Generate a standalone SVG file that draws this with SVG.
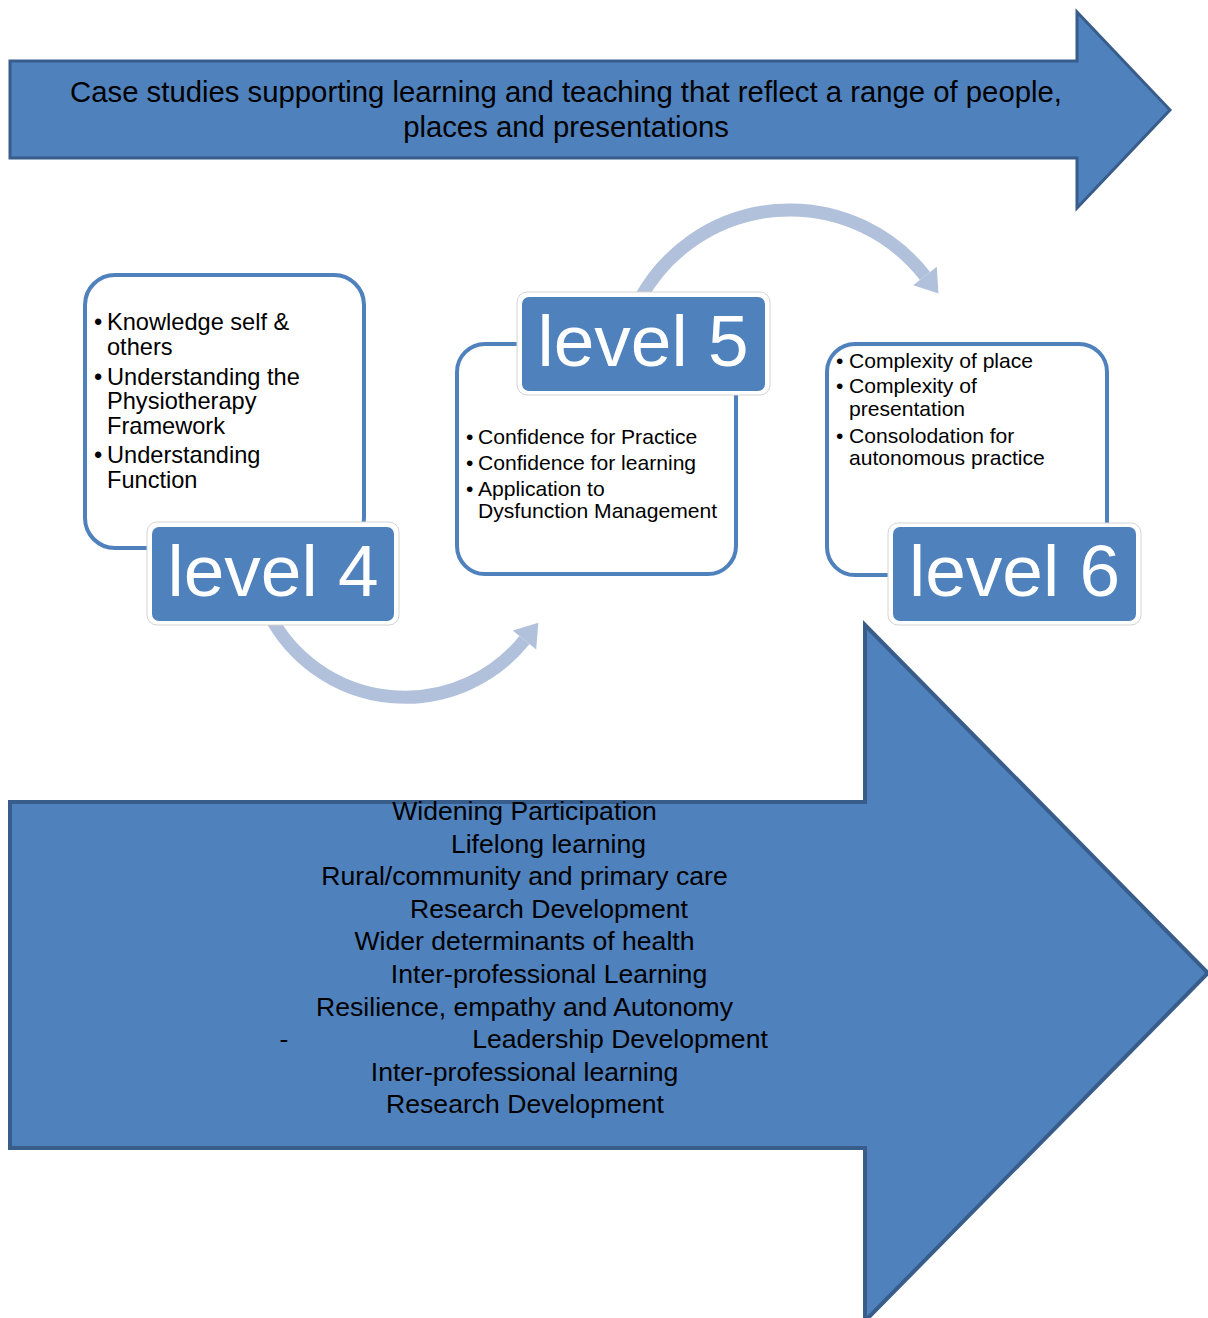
<svg xmlns="http://www.w3.org/2000/svg" width="1208" height="1318" viewBox="0 0 1208 1318">
<style>
.big{fill:#4f81bd;stroke:#385d8a;stroke-linejoin:miter}
.t{font-family:"Liberation Sans",Arial,sans-serif;fill:#000}
.box{fill:#fff;stroke:#4f81bd;stroke-width:4}
.lblo{fill:#fff;stroke:#d4d4d4;stroke-width:1}
.lbl{fill:#4f81bd}
.lt{font-family:"Liberation Sans",Arial,sans-serif;font-size:73px;fill:#fff;text-anchor:middle}
.arc{fill:none;stroke:#b2c1db;stroke-width:13}
.head{fill:#b2c1db}
.b4{font-size:23.6px}
.b5{font-size:21.1px}
.m{text-anchor:middle;font-size:26.6px}
</style>
<rect width="1208" height="1318" fill="#fff"/>

<g id="top-arrow">
<polygon class="big" stroke-width="3" points="10,61 1077,61 1077,12 1170,110 1077,208 1077,158 10,158"/>
<text class="t" font-size="29.3" text-anchor="middle"><tspan x="566" y="102">Case studies supporting learning and teaching that reflect a range of people,</tspan><tspan x="566" y="136.5">places and presentations</tspan></text>
</g>

<g id="bottom-arrow">
<polygon class="big" stroke-width="4" points="10,802 865,802 865,625 1208,973 865,1321 865,1148 10,1148"/>
<g class="t m">
<text x="524.5" y="820">Widening Participation</text>
<text x="548.5" y="852.6">Lifelong learning</text>
<text x="524.5" y="885.2">Rural/community and primary care</text>
<text x="549" y="917.8">Research Development</text>
<text x="524.5" y="950.4">Wider determinants of health</text>
<text x="549" y="983">Inter-professional Learning</text>
<text x="524.5" y="1015.6">Resilience, empathy and Autonomy</text>
<text x="284" y="1048.2">-</text>
<text x="620" y="1048.2">Leadership Development</text>
<text x="524.5" y="1080.8">Inter-professional learning</text>
<text x="525" y="1113.4">Research Development</text>
</g>
</g>

<g id="connectors">
<path class="arc" d="M 269.5 615 A 153 153 0 0 0 524.5 640"/>
<polygon class="head" points="536.2,649.4 512.8,630.6 538.3,622.8"/>
<path class="arc" d="M 639.4 300 A 171 171 0 0 1 925 276"/>
<polygon class="head" points="936.8,266.8 913.2,285.2 938.5,293.4"/>
</g>

<g id="level4">
<rect class="box" x="85" y="275" width="279" height="273" rx="30"/>
<g class="t b4">
<text x="94" y="330">•</text><text x="107" y="330">Knowledge self &amp;</text>
<text x="107" y="355">others</text>
<text x="94" y="384.5">•</text><text x="107" y="384.5">Understanding the</text>
<text x="107" y="409">Physiotherapy</text>
<text x="107" y="433.5">Framework</text>
<text x="94" y="463">•</text><text x="107" y="463">Understanding</text>
<text x="107" y="488">Function</text>
</g>
<rect class="lblo" x="147" y="522" width="252" height="103" rx="10"/>
<rect class="lbl" x="152" y="527" width="242" height="94" rx="7"/>
<text class="lt" x="273" y="596">level 4</text>
</g>

<g id="level5">
<rect class="box" x="457" y="344" width="279" height="230" rx="28"/>
<g class="t b5">
<text x="466" y="444">•</text><text x="478" y="444">Confidence for Practice</text>
<text x="466" y="470">•</text><text x="478" y="470">Confidence for learning</text>
<text x="466" y="496">•</text><text x="478" y="496">Application to</text>
<text x="478" y="518">Dysfunction Management</text>
</g>
<rect class="lblo" x="517" y="292" width="253" height="103" rx="10"/>
<rect class="lbl" x="522" y="297" width="243" height="94" rx="7"/>
<text class="lt" x="643" y="366">level 5</text>
</g>

<g id="level6">
<rect class="box" x="827" y="344" width="280" height="231" rx="28"/>
<g class="t b5">
<text x="836" y="368">•</text><text x="849" y="368">Complexity of place</text>
<text x="836" y="393">•</text><text x="849" y="393">Complexity of</text>
<text x="849" y="416">presentation</text>
<text x="836" y="443">•</text><text x="849" y="443">Consolodation for</text>
<text x="849" y="465">autonomous practice</text>
</g>
<rect class="lblo" x="888" y="523" width="253" height="102" rx="10"/>
<rect class="lbl" x="893" y="527" width="243" height="94" rx="7"/>
<text class="lt" x="1014.5" y="596">level 6</text>
</g>
</svg>
